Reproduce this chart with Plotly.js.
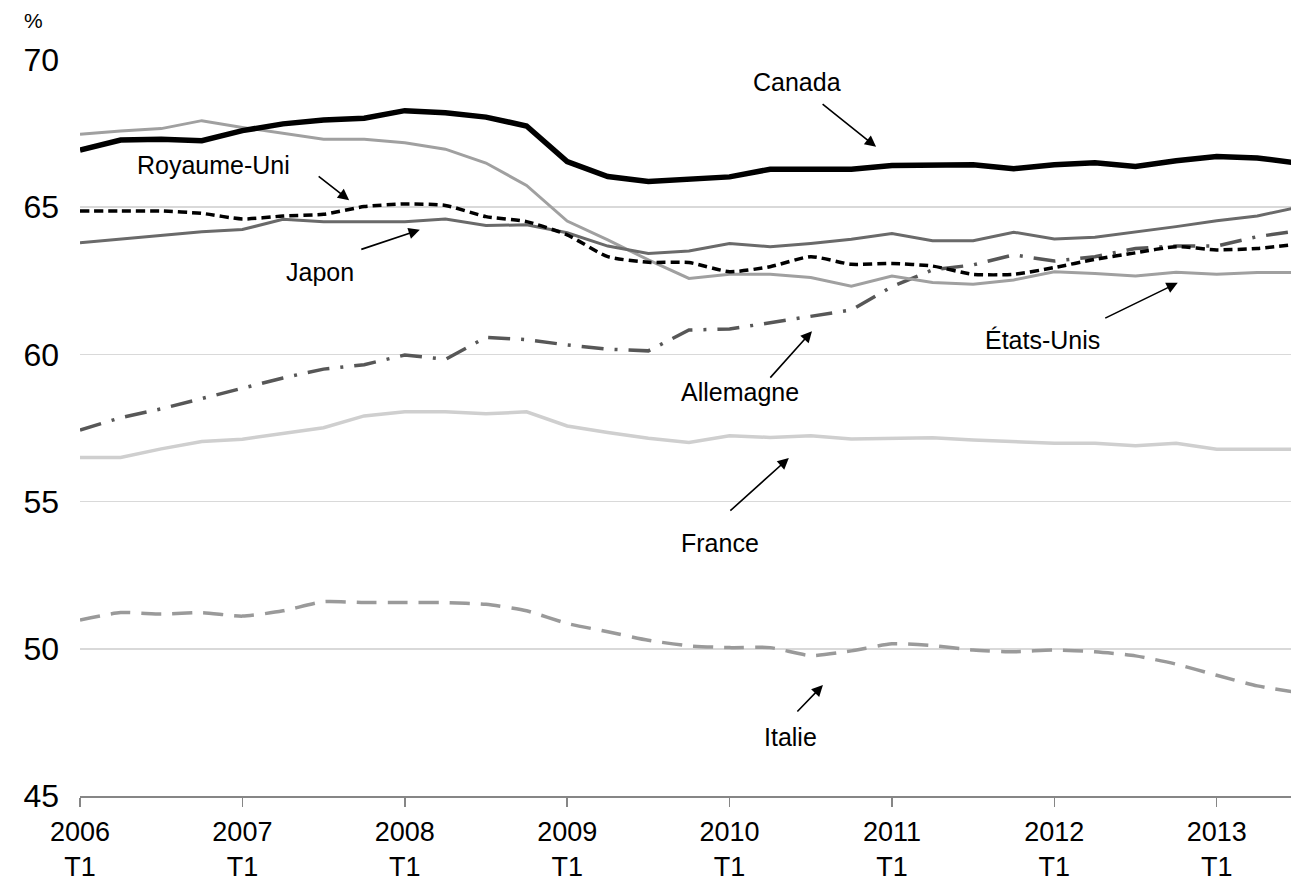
<!DOCTYPE html>
<html><head><meta charset="utf-8">
<script src="https://cdn.plot.ly/plotly-3.0.1.min.js"></script>
<style>html,body{margin:0;padding:0;background:#fff;}#chart{width:1291px;height:882px;}</style>
</head><body><div id="chart"></div>
<script>
const quarters = ["2006 T1","2006 T2","2006 T3","2006 T4","2007 T1","2007 T2","2007 T3","2007 T4",
"2008 T1","2008 T2","2008 T3","2008 T4","2009 T1","2009 T2","2009 T3","2009 T4",
"2010 T1","2010 T2","2010 T3","2010 T4","2011 T1","2011 T2","2011 T3","2011 T4",
"2012 T1","2012 T2","2012 T3","2012 T4","2013 T1","2013 T2","2013 T3"];
const tickLabels = ["2006<br>T1","2007<br>T1","2008<br>T1","2009<br>T1","2010<br>T1","2011<br>T1","2012<br>T1","2013<br>T1"];
const yTicks = [45,50,55,60,65,70];

const canada = [66.94,67.28,67.31,67.26,67.6,67.83,67.96,68.02,68.28,68.21,68.06,67.76,66.55,66.04,65.87,65.96,66.03,66.29,66.29,66.29,66.42,66.44,66.44,66.31,66.44,66.51,66.38,66.58,66.72,66.67,66.5];
const etatsUnis = [67.48,67.59,67.67,67.94,67.71,67.51,67.31,67.31,67.19,66.97,66.5,65.74,64.53,63.89,63.21,62.58,62.72,62.72,62.61,62.32,62.66,62.44,62.38,62.53,62.81,62.75,62.66,62.79,62.72,62.78,62.78];
const royaumeUni = [64.87,64.87,64.87,64.79,64.6,64.7,64.76,65.02,65.11,65.06,64.68,64.51,64.06,63.32,63.13,63.12,62.81,62.98,63.32,63.06,63.09,63.0,62.72,62.72,62.95,63.23,63.45,63.66,63.55,63.6,63.75];
const japon = [63.79,63.92,64.04,64.17,64.24,64.59,64.51,64.51,64.51,64.6,64.38,64.4,64.13,63.68,63.43,63.51,63.77,63.66,63.77,63.91,64.11,63.86,63.86,64.15,63.92,63.98,64.15,64.34,64.54,64.7,65.0];
const allemagne = [57.43,57.85,58.15,58.5,58.85,59.2,59.5,59.65,59.98,59.83,60.58,60.5,60.32,60.18,60.12,60.83,60.86,61.08,61.31,61.51,62.3,62.87,63.04,63.38,63.17,63.32,63.6,63.68,63.68,64.0,64.2];
const france = [56.5,56.5,56.79,57.04,57.12,57.32,57.51,57.91,58.05,58.05,57.98,58.05,57.57,57.35,57.15,57.01,57.24,57.18,57.24,57.13,57.15,57.17,57.09,57.04,56.98,56.98,56.9,56.98,56.78,56.78,56.78];
const italie = [50.98,51.23,51.18,51.23,51.11,51.29,51.6,51.57,51.57,51.57,51.51,51.29,50.86,50.58,50.29,50.1,50.04,50.04,49.77,49.93,50.17,50.11,49.96,49.9,49.96,49.9,49.76,49.48,49.1,48.74,48.51];

const xIdx = quarters.map((q,i)=>i);
const tickIdx = quarters.map((q,i)=>i).filter(i=>quarters[i].endsWith("T1"));

function tr(name, y, color, width, dash, shape){
  return {x:xIdx, y:y, name:name, type:'scatter', mode:'lines',
    line:{color:color, width:width, dash:dash||'solid', shape:shape||'linear', smoothing:0.6},
    hoverinfo:'skip'};
}
const data = [
  tr('France', france, '#cfcfcf', 3.5),
  tr('Italie', italie, '#9a9a9a', 3.5, '20px,11px', 'spline'),
  tr('Allemagne', allemagne, '#575757', 3.5, '22px,11px,3px,11px'),
  tr('États-Unis', etatsUnis, '#a0a0a0', 3),
  tr('Japon', japon, '#6a6a6a', 3),
  tr('Royaume-Uni', royaumeUni, '#000000', 3.5, '9px,5px', 'spline'),
  tr('Canada', canada, '#000000', 5.5)
];

const F = 'Liberation Sans, Arial, sans-serif';
function lab(text,x,y){return {text:text,x:x,y:y,xref:'x',yref:'y',showarrow:false,xanchor:'center',yanchor:'middle',font:{family:F,size:25,color:'#000'}};}
function arr(x,y,ax,ay){return {text:'',x:x,y:y,xref:'x',yref:'y',ax:ax,ay:ay,showarrow:true,arrowhead:2,arrowsize:1.4,arrowwidth:1.6,arrowcolor:'#000'};}

const annotations = [
  lab('Canada',17.66,69.25), arr(19.61,67.05,-55,-44),
  lab('Royaume-Uni',3.28,66.43), arr(6.63,65.24,-32,-25),
  lab('Japon',5.91,62.8), arr(8.37,64.23,-60,20),
  lab('États-Unis',23.72,60.49), arr(27.04,62.43,-74,36),
  lab('Allemagne',16.26,58.72), arr(18.03,60.79,-43,48),
  lab('France',15.76,53.59), arr(17.46,56.48,-60,54),
  lab('Italie',17.49,47.0), arr(18.3,48.77,-27,28),
  {text:'%',xref:'paper',yref:'paper',x:-0.0388,y:1.053,xanchor:'center',yanchor:'middle',showarrow:false,font:{family:F,size:21,color:'#000'}}
];

const layout = {
  width:1291, height:882,
  margin:{l:80,r:0,t:60,b:86},
  paper_bgcolor:'#fff', plot_bgcolor:'#fff',
  showlegend:false,
  font:{family:F,color:'#000'},
  xaxis:{range:[0,29.83], tickvals:tickIdx, ticktext:tickLabels, showgrid:false, zeroline:false,
    showline:true, linecolor:'#868686', linewidth:1.5, ticks:'outside', ticklen:9, tickcolor:'#868686', tickwidth:1.5,
    ticklabelstandoff:2,
    tickfont:{family:F,size:27,color:'#000'}, fixedrange:true},
  yaxis:{range:[45,70], tickvals:yTicks, showgrid:true, gridcolor:'#d9d9d9', gridwidth:1.5, zeroline:false,
    showline:false, ticks:'', ticklabelstandoff:20, tickfont:{family:F,size:32,color:'#000'}, fixedrange:true},
  annotations:annotations
};
Plotly.newPlot('chart', data, layout, {staticPlot:true, displayModeBar:false});
</script></body></html>
